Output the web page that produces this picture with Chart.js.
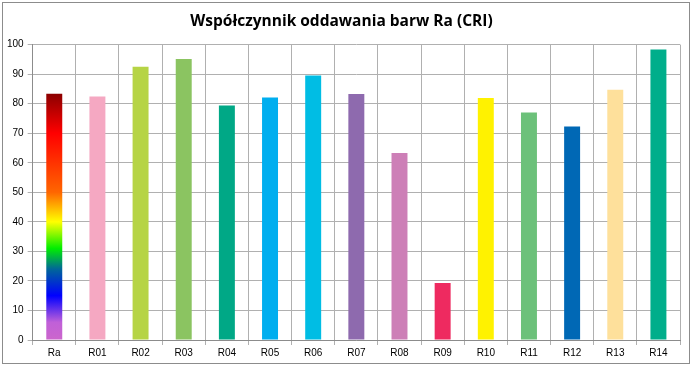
<!DOCTYPE html>
<html>
<head>
    <meta charset="utf-8">
    <title>Współczynnik oddawania barw Ra (CRI)</title>
    <script src="https://cdn.jsdelivr.net/npm/chart.js"></script>
    <style>
        html, body { margin: 0; padding: 0; background: #fff; }
        .frame {
            position: absolute; left: 2px; top: 2px;
            width: 688px; height: 362px;
            border: 1px solid #8c8c8c; box-sizing: border-box;
        }
        .chart-box { position: absolute; left: 0; top: 0; width: 686px; height: 360px; }
    </style>
</head>
<body>
    <div class="frame">
        <div class="chart-box"><canvas id="cri-chart"></canvas></div>
    </div>

    <script>
        const labels = ['Ra', 'R01', 'R02', 'R03', 'R04', 'R05', 'R06', 'R07', 'R08', 'R09', 'R10', 'R11', 'R12', 'R13', 'R14'];
        const values = [83.4, 82.4, 92.5, 95.1, 79.4, 82.1, 89.5, 83.3, 63.3, 19.3, 81.9, 77.0, 72.3, 84.7, 98.3];
        const barColors = [null, '#f5a8c2', '#b6d445', '#8bc461', '#00a886', '#00aeef', '#00bde4', '#8e6aae', '#cd7fb7', '#ee2a60', '#fff200', '#6cc17a', '#0068b5', '#fee09b', '#00ae8b'];
        // Ra bar: colour stops by value (0..100)
        const raStops = [[0, '#cc66cc'], [6, '#c060d8'], [15, '#0000ff'], [24, '#006699'], [31, '#00ee00'], [40, '#ffff00'], [50, '#ff6600'], [60, '#ff3300'], [70, '#ff0000'], [83.4, '#8b0000']];

        function raGradient(context) {
            const chart = context.chart;
            const yScale = chart.scales.y;
            if (!yScale || !chart.chartArea) return '#ff0000';
            const y0 = yScale.getPixelForValue(0);
            const y1 = yScale.getPixelForValue(values[0]);
            const g = chart.ctx.createLinearGradient(0, y0, 0, y1);
            raStops.forEach(s => g.addColorStop(Math.min(1, s[0] / values[0]), s[1]));
            return g;
        }

        const ctx = document.getElementById('cri-chart').getContext('2d');
        new Chart(ctx, {
            type: 'bar',
            data: {
                labels: labels,
                datasets: [{
                    data: values,
                    backgroundColor: function(context) {
                        if (context.dataIndex === 0) return raGradient(context);
                        return barColors[context.dataIndex];
                    },
                    borderWidth: 0,
                    barPercentage: 0.37,
                    categoryPercentage: 1.0
                }]
            },
            options: {
                responsive: true,
                maintainAspectRatio: false,
                animation: false,
                layout: { padding: { left: 0, right: 9, top: 4, bottom: 2 } },
                plugins: {
                    legend: { display: false },
                    tooltip: { enabled: false },
                    title: {
                        display: true,
                        text: 'Współczynnik oddawania barw Ra (CRI)',
                        color: '#000',
                        font: { family: 'Open Sans', size: 15.5, weight: 'bold' },
                        padding: { top: 5, bottom: 14 }
                    }
                },
                scales: {
                    x: {
                        grid: { color: '#b0b0b0', lineWidth: 1, offset: true, drawTicks: true, tickLength: 5 },
                        border: { color: '#8c8c8c' },
                        ticks: { color: '#000', font: { family: 'Liberation Sans', size: 10 }, padding: 2 }
                    },
                    y: {
                        min: 0,
                        max: 100,
                        grid: { color: '#b0b0b0', lineWidth: 1, tickLength: 5 },
                        border: { color: '#8c8c8c' },
                        ticks: { stepSize: 10, color: '#000', font: { family: 'Liberation Sans', size: 10 }, padding: 4 }
                    }
                }
            }
        });
    </script>
</body>
</html>
